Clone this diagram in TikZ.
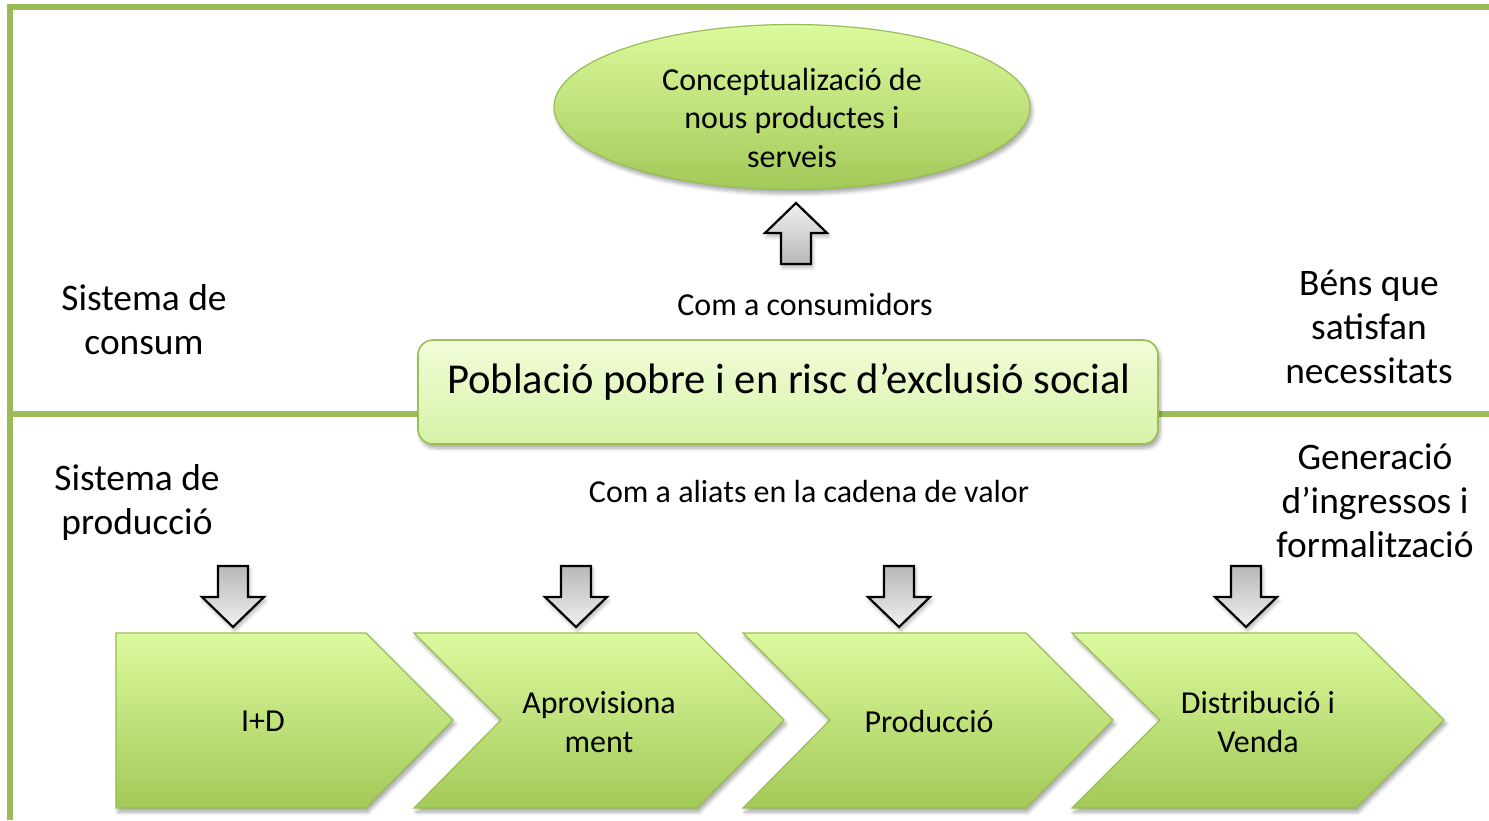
\documentclass[tikz,border=0pt]{standalone}
\usepackage{fontspec}
\setmainfont{Carlito}
\usetikzlibrary{shadows,shadows.blur,shapes.geometric}
\definecolor{frameg}{HTML}{9BBB59}
\definecolor{gtop}{HTML}{DCFA9E}
\definecolor{gbot}{HTML}{A3C958}
\definecolor{gline}{HTML}{98BE55}
\definecolor{btop}{HTML}{F2FDDA}
\definecolor{bbot}{HTML}{D6F2A6}
\definecolor{atip}{HTML}{F0F0F0}
\definecolor{atail}{HTML}{B8B8B8}
\tikzset{
  frameline/.style={draw=frameg, line width=2.6pt},
  greenshape/.style={draw=gline, line width=0.6pt, top color=gtop, bottom color=gbot,
     blur shadow={shadow xshift=1pt, shadow yshift=-2pt, shadow blur steps=6, shadow opacity=35}},
  graybox/.style={draw=black, line width=1.1pt, line join=miter,
     blur shadow={shadow xshift=0.8pt, shadow yshift=-1.8pt, shadow blur steps=5, shadow opacity=30}},
  lbl/.style={align=center, inner sep=0pt, font=\fontsize{18.7}{22}\selectfont},
  sml/.style={align=center, inner sep=0pt, font=\fontsize{16}{19.25}\selectfont},
}
\begin{document}
\begin{tikzpicture}[x=0.5pt,y=-0.5pt]
\useasboundingbox (0,0) rectangle (1489,820);
% frame
\draw[frameline] (10,820) -- (10,7) -- (1489,7);
\draw[frameline, line width=3pt] (10,414) -- (1489,414);

% ellipse
\node[greenshape, ellipse, minimum width=238pt, minimum height=82.5pt, inner sep=0pt] (concept) at (792,107) {};
\node[sml] (concepttxt) at (792,118) {Conceptualizació de\\nous productes i\\serveis};

% up arrow
\path[graybox, top color=atip, bottom color=atail]
  (796,203) -- (827,233) -- (811,233) -- (811,264) -- (781,264) -- (781,233) -- (765,233) -- cycle;

\node[sml] (consum) at (805,304) {Com a consumidors};

% central box
\node[draw=gline, line width=0.8pt, rounded corners=7.5pt, top color=btop, bottom color=bbot,
      minimum width=370pt, minimum height=52pt, inner sep=0pt,
      blur shadow={shadow xshift=1pt, shadow yshift=-2pt, shadow blur steps=6, shadow opacity=35}]
      (pob) at (788,392) {};
\node[align=center, inner sep=0pt, font=\fontsize{21.3}{26}\selectfont] (pobtxt) at (789,382) {Població pobre i en risc d’exclusió social};

% side labels
\node[lbl] (sc) at (144,320) {Sistema de\\consum};
\node[lbl] (bens) at (1369,327) {Béns que\\satisfan\\necessitats};
\node[lbl] (sp) at (137,503) {Sistema de\\producció};
\node[lbl] (gen) at (1375,501) {Generació\\d’ingressos i\\formalització};
\node[sml] (aliats) at (809,491) {Com a aliats en la cadena de valor};

% down arrows
\foreach \cx/\nm in {233/a1,576/a2,899/a3,1246/a4}{
  \path[graybox, top color=atail, bottom color=atip]
    (\cx-15,566) -- (\cx+15,566) -- (\cx+15,597) -- (\cx+31,597) -- (\cx,627) -- (\cx-31,597) -- (\cx-15,597) -- cycle;
}

% chevrons
\path[greenshape] (116,633) -- (366,633) -- (453,720) -- (366,808) -- (116,808) -- cycle;
\path[greenshape] (414,633) -- (697,633) -- (784,720) -- (697,808) -- (414,808) -- (501,720) -- cycle;
\path[greenshape] (743,633) -- (1026,633) -- (1113,720) -- (1026,808) -- (743,808) -- (830,720) -- cycle;
\path[greenshape] (1072,633) -- (1356,633) -- (1444,720) -- (1356,808) -- (1072,808) -- (1160,720) -- cycle;

\node[sml] (id) at (263,721) {I+D};
\node[sml] (apr) at (599,722) {Aprovisiona\\ment};
\node[sml] (prod) at (929,721) {Producció};
\node[sml] (dist) at (1258,722) {Distribució i\\Venda};
\end{tikzpicture}
\end{document}
